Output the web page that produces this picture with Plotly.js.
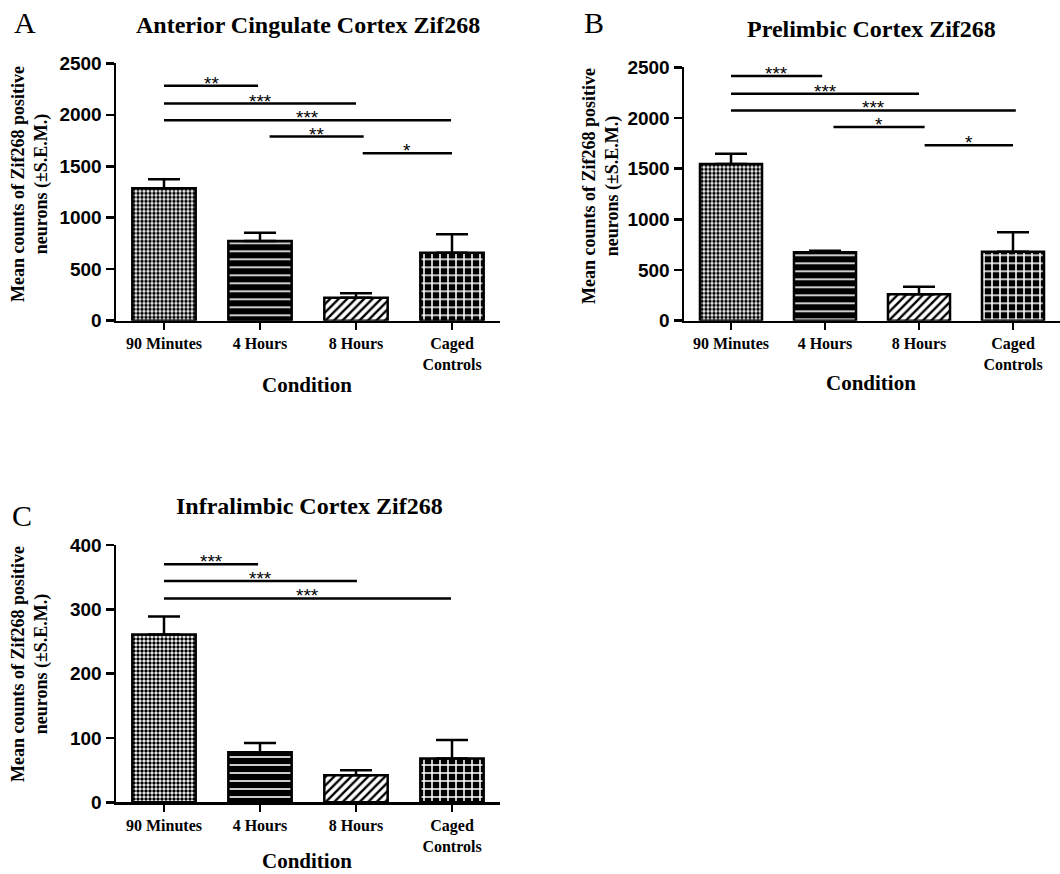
<!DOCTYPE html>
<html>
<head>
<meta charset="utf-8">
<script src="https://cdn.plot.ly/plotly-3.0.1.min.js"></script>
<style>html,body{margin:0;padding:0;background:#fff;}#chart{width:1060px;height:874px;}</style>
</head>
<body>
<div id="chart"></div>
<script>
// ---- data ----
const categories = ['90 Minutes', '4 Hours', '8 Hours', 'Caged Controls'];
const tickLabels = ['90 Minutes', '4 Hours', '8 Hours', 'Caged<br>Controls'];

const meanA = [1287, 774, 224, 661];
const semA  = [87, 81, 42, 179];
const meanB = [1546, 675, 260, 681];
const semB  = [102, 16, 75, 191];
const meanC = [261, 78, 42, 68];
const semC  = [28, 14, 8, 29];

const yTicksAB = [0, 500, 1000, 1500, 2000, 2500];
const yTicksC  = [0, 100, 200, 300, 400];

// significance comparisons (category index from/to, bar height, label)
const sigAFrom  = [0, 0, 0, 1.1, 2.07];
const sigATo    = [0.98, 2, 2.99, 2.08, 3];
const sigAY     = [2281, 2109, 1947, 1788, 1627];
const sigALabel = ['**', '***', '***', '**', '*'];

const sigBFrom  = [0, 0, 0, 1.09, 2.06];
const sigBTo    = [0.97, 2, 3.03, 2.06, 3];
const sigBY     = [2414, 2240, 2075, 1911, 1730];
const sigBLabel = ['***', '***', '***', '*', '*'];

const sigCFrom  = [0, 0, 0];
const sigCTo    = [0.98, 2.01, 2.99];
const sigCY     = [370, 344, 317];
const sigCLabel = ['***', '***', '***'];

const panelTitles = ['Anterior Cingulate Cortex Zif268', 'Prelimbic Cortex Zif268', 'Infralimbic Cortex Zif268'];
const panelLetters = ['A', 'B', 'C'];
const yTitle = 'Mean counts of Zif268 positive<br>neurons (±S.E.M.)';
const xTitle = 'Condition';

// ---- styling helpers ----
const W = 1060, H = 874;
const px = v => v / W;
const py = v => 1 - v / H;
const SERIF = 'Liberation Serif, Times New Roman, serif';
const SANS = 'Liberation Sans, Arial, sans-serif';

// one fill pattern per condition
const patterns = [
  { shape: '.', fgcolor: 'black', bgcolor: 'white', size: 4, solidity: 0.6, fillmode: 'replace' },
  { shape: '-', fgcolor: 'white', bgcolor: 'black', size: 8, solidity: 0.2, fillmode: 'replace' },
  { shape: '/', fgcolor: 'black', bgcolor: 'white', size: 6, solidity: 0.4, fillmode: 'replace' },
  { shape: '+', fgcolor: 'white', bgcolor: 'black', size: 8, solidity: 0.35, fillmode: 'replace' }
];
const baseColors = ['white', 'black', 'white', 'black'];

function barTraces(means, sems, xa, ya) {
  return categories.map((c, i) => ({
    type: 'bar', x: [c], y: [means[i]], xaxis: xa, yaxis: ya, width: 0.66,
    marker: { color: baseColors[i], line: { color: 'black', width: 2.5 }, pattern: patterns[i] },
    error_y: { type: 'data', symmetric: false, array: [sems[i]], arrayminus: [0],
               color: 'black', thickness: 2.5, width: 16 },
    hoverinfo: 'skip'
  }));
}

function xAxis(domain) {
  return {
    domain: domain, type: 'category', range: [-0.5, 3.5],
    categoryorder: 'array', categoryarray: categories,
    tickmode: 'array', tickvals: categories, ticktext: tickLabels,
    showline: true, linecolor: 'black', linewidth: 2.5,
    ticks: 'outside', ticklen: 7, tickwidth: 2.5, tickcolor: 'black',
    tickfont: { family: SERIF, size: 16, color: 'black', weight: 'bold' },
    showgrid: false, zeroline: false, fixedrange: true
  };
}
function yAxis(domain, range, ticks) {
  return {
    domain: domain, range: range, tickmode: 'array', tickvals: ticks,
    showline: true, linecolor: 'black', linewidth: 2.5,
    ticks: 'outside', ticklen: 8, tickwidth: 2.5, tickcolor: 'black',
    tickfont: { family: SANS, size: 19, color: 'black', weight: 'bold' },
    showgrid: false, zeroline: false, fixedrange: true
  };
}

const shapes = [];
const annotations = [];
function addSig(from, to, ys, labels, xr, yr) {
  for (let i = 0; i < ys.length; i++) {
    shapes.push({ type: 'line', xref: xr, yref: yr, x0: from[i], x1: to[i], y0: ys[i], y1: ys[i],
                  line: { color: 'black', width: 2.5 } });
    annotations.push({ xref: xr, yref: yr, x: (from[i] + to[i]) / 2, y: ys[i], text: labels[i],
                       showarrow: false, yanchor: 'bottom', yshift: -9, borderpad: 0,
                       font: { family: SANS, size: 19, color: 'black' } });
  }
}
addSig(sigAFrom, sigATo, sigAY, sigALabel, 'x', 'y');
addSig(sigBFrom, sigBTo, sigBY, sigBLabel, 'x2', 'y2');
addSig(sigCFrom, sigCTo, sigCY, sigCLabel, 'x3', 'y3');

function txt(text, x, y, size, opts) {
  annotations.push(Object.assign({ xref: 'paper', yref: 'paper', x: px(x), y: py(y), text: text,
    showarrow: false, xanchor: 'center', yanchor: 'middle',
    font: { family: SERIF, size: size, color: 'black', weight: 'bold' } }, opts || {}));
}
const letterFont = { family: SERIF, size: 30, color: 'black', weight: 'normal' };
// panel titles
txt(panelTitles[0], 308, 25, 24);
txt(panelTitles[1], 871, 29, 24);
txt(panelTitles[2], 309, 506, 24);
// letters
txt(panelLetters[0], 25, 23, 30, { font: letterFont });
txt(panelLetters[1], 594, 23, 30, { font: letterFont });
txt(panelLetters[2], 22, 515, 30, { font: letterFont });
// y titles
txt(yTitle, 30, 184, 18, { textangle: -90 });
txt(yTitle, 601, 186, 18, { textangle: -90 });
txt(yTitle, 30, 664, 18, { textangle: -90 });
// x titles
txt(xTitle, 307, 385, 21);
txt(xTitle, 871, 383, 21);
txt(xTitle, 307, 861, 21);

const data = [].concat(
  barTraces(meanA, semA, 'x', 'y'),
  barTraces(meanB, semB, 'x2', 'y2'),
  barTraces(meanC, semC, 'x3', 'y3')
);

const layout = {
  width: W, height: H, margin: { l: 0, r: 0, t: 0, b: 0 },
  paper_bgcolor: 'white', plot_bgcolor: 'white', showlegend: false,
  barmode: 'overlay',
  font: { family: SERIF, color: 'black' },
  xaxis:  Object.assign(xAxis([px(116), px(500)]), { anchor: 'y' }),
  yaxis:  Object.assign(yAxis([py(320.7), py(63.3)], [0, 2500], yTicksAB), { anchor: 'x' }),
  xaxis2: Object.assign(xAxis([px(684), 1]), { anchor: 'y2' }),
  yaxis2: Object.assign(yAxis([py(320.7), py(67.3)], [0, 2500], yTicksAB), { anchor: 'x2' }),
  xaxis3: Object.assign(xAxis([px(116), px(500)]), { anchor: 'y3' }),
  yaxis3: Object.assign(yAxis([py(802.3), py(545)], [0, 400], yTicksC), { anchor: 'x3' }),
  shapes: shapes, annotations: annotations
};

Plotly.newPlot('chart', data, layout, { staticPlot: true });
</script>
</body>
</html>
